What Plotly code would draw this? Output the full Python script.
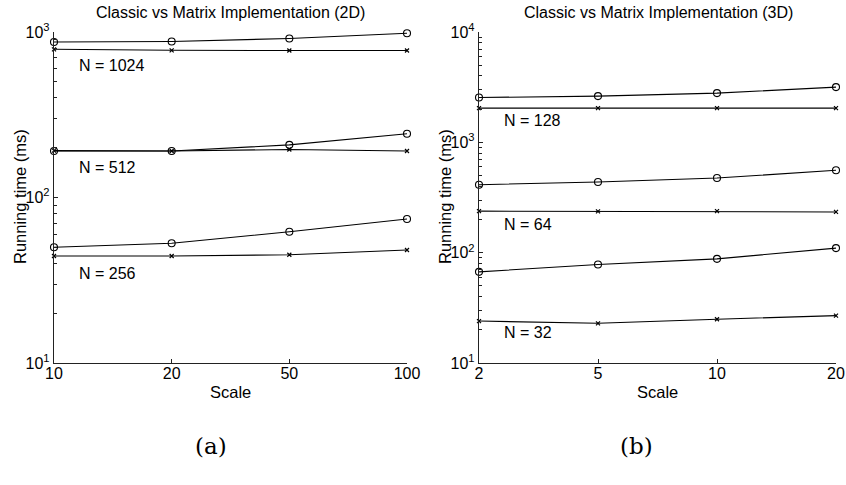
import plotly.graph_objects as go

W, H = 846, 485

# ---- data: panel (a) 2D ----
scale_2d = ["10", "20", "50", "100"]
classic_2d_1024 = [870, 876, 914, 982]
matrix_2d_1024 = [786, 775, 773, 773]
classic_2d_512 = [191, 191, 208, 243]
matrix_2d_512 = [192, 191, 195, 191]
classic_2d_256 = [50.0, 52.9, 62.1, 74.1]
matrix_2d_256 = [44.3, 44.3, 45.1, 48.2]

# ---- data: panel (b) 3D ----
scale_3d = ["2", "5", "10", "20"]
classic_3d_128 = [2546, 2624, 2793, 3167]
matrix_3d_128 = [2042, 2042, 2042, 2042]
classic_3d_64 = [413, 437, 475, 558]
matrix_3d_64 = [238, 237, 238, 234]
classic_3d_32 = [67.0, 78.1, 87.9, 110]
matrix_3d_32 = [24.0, 22.9, 24.9, 26.9]

labels_2d = ["N = 1024", "N = 512", "N = 256"]
labels_3d = ["N = 128", "N = 64", "N = 32"]

ytick_2d = [10, 100, 1000]
ytick_3d = [10, 100, 1000, 10000]

FONT = "Liberation Sans, Arial, sans-serif"
INK = "#000000"

def px_x(p):
    return p / W

def px_y(p):
    return 1 - p / H

fig = go.Figure()

def add_pair(classic, matrix, cats, xa, ya):
    fig.add_trace(go.Scatter(
        x=cats, y=classic, mode="lines+markers", xaxis=xa, yaxis=ya,
        line=dict(color=INK, width=1.1),
        marker=dict(symbol="circle-open", size=7, color=INK, line=dict(width=1.1)),
        cliponaxis=False, showlegend=False))
    fig.add_trace(go.Scatter(
        x=cats, y=matrix, mode="lines+markers", xaxis=xa, yaxis=ya,
        line=dict(color=INK, width=1.1),
        marker=dict(symbol="x-thin-open", size=4, color=INK, line=dict(width=1.2)),
        cliponaxis=False, showlegend=False))

add_pair(classic_2d_1024, matrix_2d_1024, scale_2d, "x", "y")
add_pair(classic_2d_512, matrix_2d_512, scale_2d, "x", "y")
add_pair(classic_2d_256, matrix_2d_256, scale_2d, "x", "y")
add_pair(classic_3d_128, matrix_3d_128, scale_3d, "x2", "y2")
add_pair(classic_3d_64, matrix_3d_64, scale_3d, "x2", "y2")
add_pair(classic_3d_32, matrix_3d_32, scale_3d, "x2", "y2")

def exp_label(v):
    import math
    return "10<sup>%d</sup>" % round(math.log10(v))

def minor_vals(ticks):
    out = []
    for t in ticks[:-1]:
        out += [t * k for k in range(2, 10)]
    return out

yb, yt = 363, 32
axis_common = dict(showline=True, linecolor="#222", linewidth=1.2, mirror=False,
                   showgrid=False, zeroline=False, ticks="inside", ticklen=4,
                   tickcolor="#222", automargin=False,
                   tickfont=dict(family=FONT, size=16, color=INK))

fig.update_layout(
    width=W, height=H, margin=dict(l=0, r=0, t=0, b=0),
    paper_bgcolor="white", plot_bgcolor="white",
    xaxis=dict(domain=[px_x(54), px_x(407)], type="category", range=[0, 3],
               anchor="y", ticklabelstandoff=-4, **axis_common),
    yaxis=dict(domain=[px_y(yb), px_y(yt)], type="log", range=[1, 3], anchor="x",
               tickvals=ytick_2d, ticktext=[exp_label(v) for v in ytick_2d],
               minor=dict(ticks="inside", ticklen=2.5, tickcolor="#222",
                          tickvals=minor_vals(ytick_2d), showgrid=False),
               **axis_common),
    xaxis2=dict(domain=[px_x(479), px_x(836)], type="category", range=[0, 3],
                anchor="y2", ticklabelstandoff=-4, **axis_common),
    yaxis2=dict(domain=[px_y(yb), px_y(yt)], type="log", range=[1, 4], anchor="x2",
                tickvals=ytick_3d, ticktext=[exp_label(v) for v in ytick_3d],
                minor=dict(ticks="inside", ticklen=2.5, tickcolor="#222",
                           tickvals=minor_vals(ytick_3d), showgrid=False),
                **axis_common),
)

ann = []
def text(x, y, s, size=16, fam=FONT, angle=0, xanchor="center"):
    ann.append(dict(x=x, y=y, xref="paper", yref="paper", text=s, showarrow=False,
                    font=dict(family=fam, size=size, color=INK), textangle=angle,
                    xanchor=xanchor, yanchor="middle"))

text(px_x(230), px_y(12), "Classic vs Matrix Implementation (2D)", size=16)
text(px_x(658), px_y(12), "Classic vs Matrix Implementation (3D)", size=16)
text(px_x(230), px_y(392), "Scale", size=16.5)
text(px_x(657), px_y(392), "Scale", size=16.5)
text(px_x(20), px_y(197), "Running time (ms)", size=16.5, angle=-90)
text(px_x(445), px_y(197), "Running time (ms)", size=16.5, angle=-90)
text(px_x(211), px_y(446), "(a)", size=23, fam="DejaVu Serif, serif")
text(px_x(636), px_y(446), "(b)", size=23, fam="DejaVu Serif, serif")

for lab, yp in zip(labels_2d, [66, 167.5, 273]):
    text(px_x(77), px_y(yp), lab, xanchor="left")
for lab, yp in zip(labels_3d, [120, 224, 332.5]):
    text(px_x(502), px_y(yp), lab, xanchor="left")

fig.update_layout(annotations=ann)
fig.write_html("out.html",
               config={"displayModeBar": False, "staticPlot": True},
               post_script="document.body.style.margin='0';document.body.style.overflow='hidden';")
